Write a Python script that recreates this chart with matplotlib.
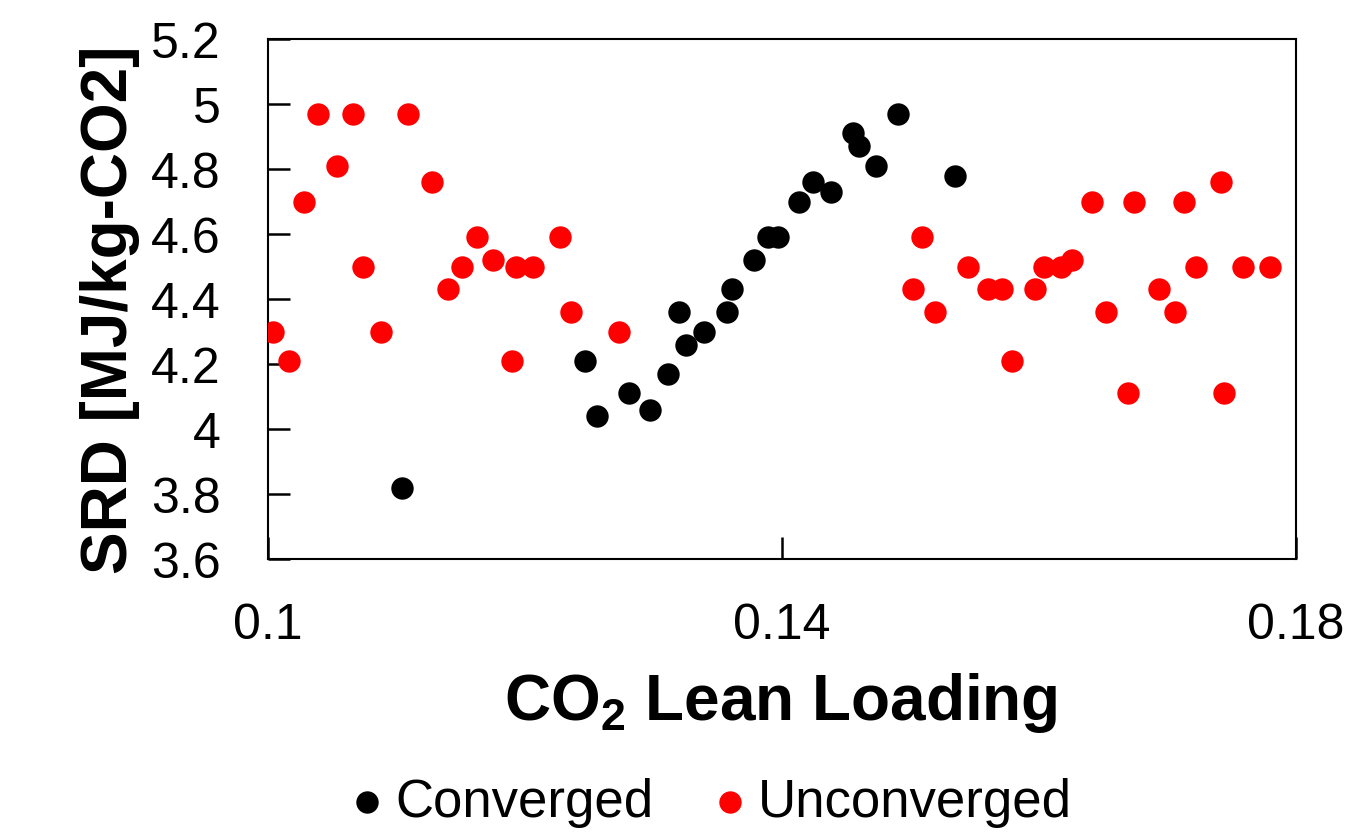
import matplotlib
matplotlib.use("Agg")
import matplotlib.pyplot as plt
from matplotlib import rcParams

rcParams.update(
    {
        "font.family": ["Liberation Sans", "DejaVu Sans"],
        "mathtext.fontset": "custom",
        "mathtext.rm": "Liberation Sans",
        "mathtext.bf": "Liberation Sans:bold",
    }
)

# Converged cases
conv_x = [0.1104, 0.1247, 0.1256, 0.1281, 0.1297, 0.1311, 0.1320, 0.1325,
          0.1339, 0.1357, 0.1361, 0.1378, 0.1389, 0.1397, 0.1413, 0.1424,
          0.1438, 0.1455, 0.1460, 0.1473, 0.1490, 0.1535]
conv_y = [3.82, 4.21, 4.04, 4.11, 4.06, 4.17, 4.36, 4.26,
          4.30, 4.36, 4.43, 4.52, 4.59, 4.59, 4.70, 4.76,
          4.73, 4.91, 4.87, 4.81, 4.97, 4.78]

# Unconverged cases
unconv_x = [0.1004, 0.1016, 0.1028, 0.1039, 0.1054, 0.1066, 0.1074, 0.1088,
            0.1109, 0.1128, 0.1140, 0.1151, 0.1163, 0.1175, 0.1190, 0.1193,
            0.1206, 0.1227, 0.1236, 0.1273,
            0.1502, 0.1509, 0.1519, 0.1545, 0.1560, 0.1571, 0.1579, 0.1597,
            0.1604, 0.1617, 0.1626, 0.1641, 0.1652, 0.1669, 0.1674, 0.1693,
            0.1706, 0.1713, 0.1722, 0.1742, 0.1744, 0.1759, 0.1780]
unconv_y = [4.30, 4.21, 4.70, 4.97, 4.81, 4.97, 4.50, 4.30,
            4.97, 4.76, 4.43, 4.50, 4.59, 4.52, 4.21, 4.50,
            4.50, 4.59, 4.36, 4.30,
            4.43, 4.59, 4.36, 4.50, 4.43, 4.43, 4.21, 4.43,
            4.50, 4.50, 4.52, 4.70, 4.36, 4.11, 4.70, 4.43,
            4.36, 4.70, 4.50, 4.76, 4.11, 4.50, 4.50]

x_ticks = [0.1, 0.14, 0.18]
x_tick_labels = ["0.1", "0.14", "0.18"]
y_ticks = [3.6, 3.8, 4.0, 4.2, 4.4, 4.6, 4.8, 5.0, 5.2]
y_tick_labels = ["3.6", "3.8", "4", "4.2", "4.4", "4.6", "4.8", "5", "5.2"]

fig = plt.figure(figsize=(13.54, 8.37), dpi=100)
# axes box in pixels: left 268, right 1296, top 40, bottom 560
ax = fig.add_axes([268 / 1354, 1 - 560 / 837, 1028 / 1354, 520 / 837])

ax.scatter(conv_x, conv_y, s=260, color="black", linewidths=0,
           label="Converged", zorder=3)
ax.scatter(unconv_x, unconv_y, s=260, color="red", linewidths=0,
           label="Unconverged", zorder=3)

ax.set_xlim(0.1, 0.18)
ax.set_ylim(3.6, 5.2)
ax.set_xticks(x_ticks)
ax.set_xticklabels(x_tick_labels)
ax.set_yticks(y_ticks)
ax.set_yticklabels(y_tick_labels)

ax.tick_params(axis="both", direction="in", length=16, width=1.8, labelsize=36)
ax.tick_params(axis="x", pad=31)
ax.tick_params(axis="y", pad=34)
for sp in ax.spines.values():
    sp.set_linewidth(1.5)

fig.text(110 / 1354, 1 - 310 / 837, "SRD [MJ/kg-CO2]", rotation=90,
         fontsize=46, fontweight="bold", ha="center", va="center")
fig.text(781 / 1354, 1 - 703 / 837, r"$\mathbf{CO_2}$ Lean Loading",
         fontsize=46, fontweight="bold", ha="center", va="center")

fig.legend(loc="center", bbox_to_anchor=(713 / 1354, 1 - 803 / 837),
           ncol=2, frameon=False, fontsize=38, markerscale=1.0,
           handletextpad=0.29, columnspacing=1.19, handlelength=0.5)

fig.savefig("out.png", dpi=100)
